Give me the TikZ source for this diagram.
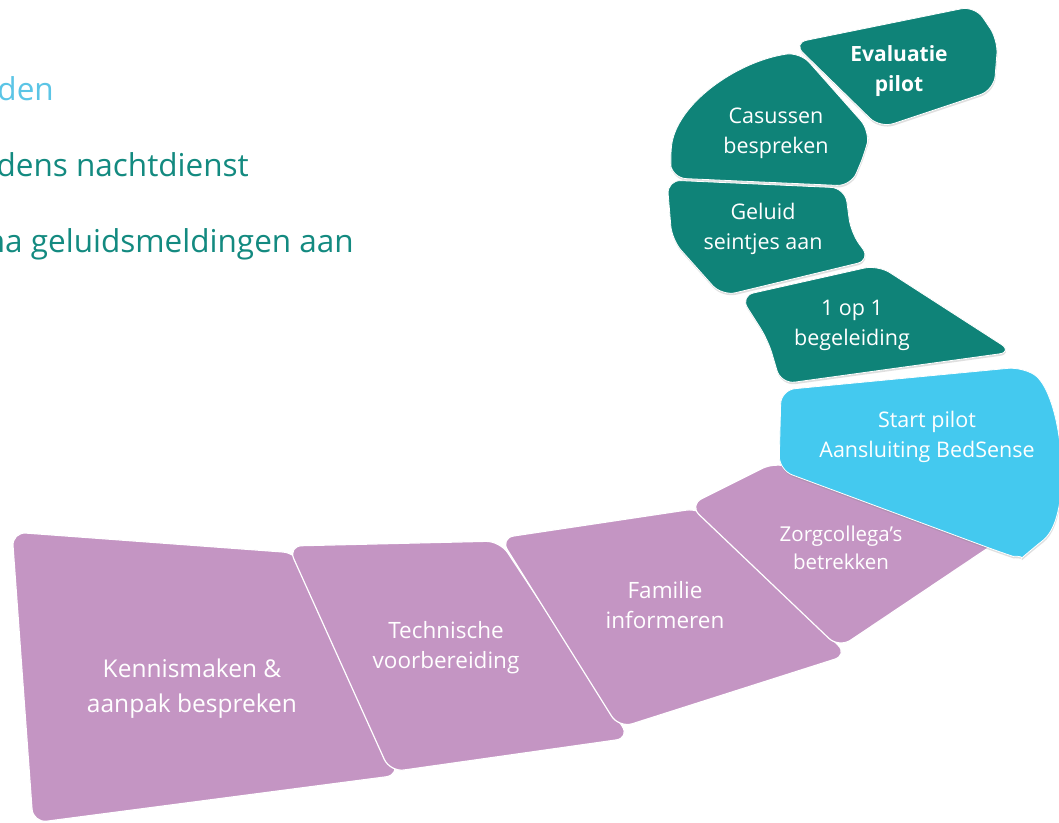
\documentclass[tikz,border=0pt]{standalone}
\usepackage{fontspec}
\setmainfont{Open Sans}
\usetikzlibrary{shadows}
\definecolor{purp}{HTML}{C495C3}
\definecolor{tealc}{HTML}{0F8378}
\definecolor{sky}{HTML}{44C9EF}
\definecolor{skytext}{HTML}{5BC5E6}
\definecolor{tealtext}{HTML}{138A80}
\tikzset{
  purpbox/.style={fill=purp, draw=white, line width=1.2pt, rounded corners=14pt},
  skybox/.style={fill=sky, draw=white, line width=0.8pt, rounded corners=14pt,
    drop shadow={opacity=0.25, shadow xshift=0.5pt, shadow yshift=-2pt}},
  tealbox/.style={fill=tealc, draw=white, line width=0.8pt, rounded corners=14pt,
    drop shadow={opacity=0.25, shadow xshift=0.5pt, shadow yshift=-2pt}},
  lbl/.style={text=white, align=center, inner sep=0pt},
  side/.style={anchor=base east, inner sep=0pt, font=\fontsize{31.5}{37}\selectfont}
}
\begin{document}
\begin{tikzpicture}[x=1pt,y=-1pt]
\path[use as bounding box, fill=white] (0,0) rectangle (1059,822);

% left texts
\node[side, text=skytext] (l1) at (54,100) {den};
\node[side, text=tealtext] (l2) at (249,176) {dens nachtdienst};
\node[side, text=tealtext] (l3) at (354,252) {na geluidsmeldingen aan};

% purple shapes
\path[purpbox] (12,532) -- (297,553) -- (400,775) -- (33,823) -- cycle;
\path[purpbox] (288,546) -- (500,541) -- (630,738) -- (390,772) -- cycle;
\path[purpbox] (500,538) -- (700,508) -- (848,655) -- (619,728) -- cycle;
\path[purpbox] (689,505) -- (775,462) -- (1000,540) -- (839,648) -- cycle;

% blue shape
\path[skybox] (779,470) -- (781,390) -- (1022,367)
  .. controls (1062,392) and (1075,515) .. (1032,549)
  .. controls (1024,556) and (1012,556) .. (1000,552) -- cycle;

% teal shapes
\path[tealbox] (672,178) -- (851,186) -- (866,150) -- (870,131) -- (800,52)
  .. controls (735,62) and (676,105) .. (670,160) -- cycle;
\path[tealbox] (793,43) -- (975,6) -- (998,40) -- (994,90) -- (880,128) -- cycle;
\path[tealbox] (667,180) -- (845,188) -- (851,233) -- (871,260) -- (722,296) -- (672,240) -- cycle;
\path[tealbox] (740,296) -- (878,265) -- (1013,352) -- (781,384) -- (768,340) -- cycle;

% labels
\node[lbl, font=\fontsize{24.5}{35}\selectfont] (t1) at (192,689) {Kennismaken \&\\aanpak bespreken};
\node[lbl, font=\fontsize{22.5}{30}\selectfont] (t2) at (446,648) {Technische\\voorbereiding};
\node[lbl, font=\fontsize{22.5}{30}\selectfont] (t3) at (665,605) {Familie\\informeren};
\node[lbl, font=\fontsize{20.5}{28}\selectfont] (t4) at (841,548) {Zorgcollega’s\\betrekken};
\node[lbl, font=\fontsize{21.5}{30}\selectfont] (t5) at (927,437) {Start pilot\\Aansluiting BedSense};
\node[lbl, font=\fontsize{21.5}{30}\selectfont] (t6) at (852,325) {1 op 1\\begeleiding};
\node[lbl, font=\fontsize{21.5}{30}\selectfont] (t7) at (763,229) {Geluid\\seintjes aan};
\node[lbl, font=\fontsize{21.5}{30}\selectfont] (t8) at (776,133) {Casussen\\bespreken};
\node[lbl, font=\fontsize{21}{30}\selectfont\bfseries] (t9) at (899,71) {Evaluatie\\pilot};
\end{tikzpicture}
\end{document}
